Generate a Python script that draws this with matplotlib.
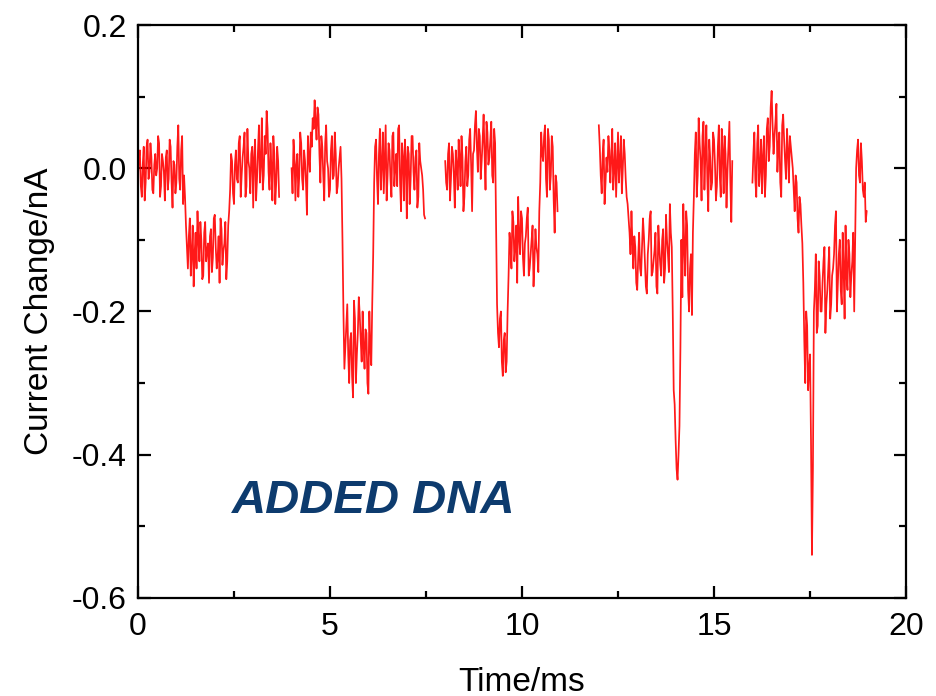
#!/usr/bin/env python3
from __future__ import annotations

import matplotlib

matplotlib.use("Agg")
import matplotlib.pyplot as plt
import numpy as np
from matplotlib.ticker import MultipleLocator

# the trace was read at 0.05 ms; *_MID values sit half a step later
STEP = 0.05

# each recorded segment: start time (ms) and current change in pA
SEG1_T0 = 0.0
SEG1_PA = [
    -10, 25, -40, 30, -20, 40, -5, 15, -35, 20, 0, 35, -25, 10, -45, 25, -15, 30, -55, 5,
    -20, 60, -30, 45, -10,
    -80, -140, -70, -120, -165, -90, -60, -130, -100, -150, -75, -115, -160, -85, -125,
    -65, -140, -95, -70, -135, -105, -155, -80,
    -30, 10, -50, 25, -20, 45, -10, 30, -40, 55, 0, 20, -55, 40, -15, 60, 5, -30, 45, 80,
    -5, 35, -45, 20, -20, 10,
]
SEG1_MID = [
    15, -25, 5, -45, 30, -15, 35, -30, 5, -10, 45, -40, 20, -5, 15, -30, 40, -20, 10, -35,
    30, -15, 25, -50, -40,
    -110, -95, -150, -80, -120, -140, -100, -75, -155, -90, -130, -105, -95, -145, -70,
    -110, -125, -160, -85, -115, -75, -130, -60,
    20, -35, 5, -15, 35, -40, 15, 50, -25, 10, -35, 30, 15, -45, 25, -20, 70, -10, 20, 55,
    -30, 0, 45, -50, 30, -40,
]
SEG2_T0 = 4.0
SEG2_PA = [
    0, 40, -45, 20, -10, 35, -30, 10, -65, 15, 50, 70, 95, 40, 75, -20, 30, -45, 60, 0,
    -30, 45, -10, 20, -25, 15, -15,
    -200, -250, -190, -300, -230, -320, -210, -260, -180, -240, -200, -280, -230, -315,
    -250, -190,
    -20, 40, -50, 55, 5, -35, 60, -10, 25, -40, 50, 0, -25, 60, -60, 15, 40, -70, 20, -15,
    45, -30, 25, -40, 10, -10, -65,
]
SEG2_MID = [
    -35, 15, 5, -40, 50, -15, 25, -20, 45, -5, 30, 55, 65, 85, 20, 45, -10, 35, 10, -40,
    25, -15, 50, -35, 0, 30, -100,
    -280, -220, -260, -240, -290, -185, -300, -230, -205, -270, -250, -225, -300, -200,
    -275, -120,
    30, -15, 20, -30, 50, 15, -45, 35, -15, 45, -25, 20, 55, -20, 35, -45, 10, 30, -50, 45,
    -5, 15, -55, 35, 0, -30, -70,
]
SEG3_T0 = 8.0
SEG3_PA = [
    10, -30, 35, -15, 20, -55, 5, 40, -25, 15, -40, 30, -10, 55, -60, 25, 80, -5, 45, 10,
    75, -30, 50, 15, 65, -20, 35,
    -190, -250, -200, -290, -230, -270,
    -150, -110, -60, -130, -80, -40, -120, -70, -150, -95, -55, -140, -100, -165, -85,
    -120, -60,
    50, 10, 60, -40, 40, -10, 30, -90, -20,
]
SEG3_MID = [
    -20, 20, -45, 30, -10, 25, -30, 15, 45, -60, 10, -25, 40, 5, 20, 60, 30, 55, -15, 40,
    20, 65, 5, 40, -10, 55, -80,
    -230, -210, -270, -240, -285, -200,
    -90, -140, -75, -110, -160, -95, -60, -125, -105, -70, -150, -120, -80, -130, -110,
    -145, -20,
    20, 45, -15, 55, -30, 45, -45, -10, -60,
]
SEG4_T0 = 12.0
SEG4_PA = [
    60, -10, 20, -50, 15, 45, -20, 55, 0, -40, 50, 10, -35, 40, -15, -50,
    -90, -60, -140, -110, -170, -90, -150, -70, -130, -175, -100, -60, -145, -115, -165,
    -80, -135, -100, -160, -65, -120, -50, -110,
    -310, -380, -435, -360,
    -100, -50, -150, -80, -200, -120, -90,
    20, -40, 70, 10, 45, -30, 60, -60, 15, -20, 40, -45, 30, -10, 55, -35, 20, -5, 65, -75,
]
SEG4_MID = [
    30, -35, 40, -20, -5, 25, 15, -30, 35, 5, -20, 45, 0, 20, -40, -70,
    -120, -105, -95, -160, -125, -140, -110, -95, -165, -120, -70, -150, -130, -90, -175,
    -110, -150, -85, -140, -100, -145, -90, -200,
    -330, -420, -400, -250,
    -180, -110, -60, -170, -140, -205, -40,
    50, -10, 35, -45, 65, 20, -15, 40, -30, 50, 5, -25, 60, -40, 25, 45, -55, 30, -20, 10,
]
SEG5_T0 = 16.0
SEG5_PA = [
    -20, 50, -40, 60, 0, -35, 45, -10, 70, 30, 108, 20, 65, -5, 50, -40, 75, 10, 55, -20,
    30,
    0, -60, -20, -90, -50, -105,
    -240, -200, -310, -260,
    -540,
    -200, -120, -220, -150, -200, -130, -230, -170, -110, -190, -140, -80, -200, -120,
    -170, -90, -210, -150, -100, -180, -130, -200,
    0, 40, -20, 10, -40, -75,
]
SEG5_MID = [
    20, -15, 35, -25, 40, 15, -40, 55, 10, 85, 60, 45, 90, 30, -20, 60, 40, -15, 25, 45,
    15,
    -30, -10, -70, -40, -80, -160,
    -300, -220, -280, -380,
    -420,
    -170, -230, -130, -200, -160, -110, -190, -140, -210, -150, -120, -60, -160, -100,
    -190, -140, -80, -170, -120, -150, -90, -100,
    25, -10, 35, -30, -20, -60,
]
SEGMENTS = [
    (SEG1_T0, SEG1_PA, SEG1_MID),
    (SEG2_T0, SEG2_PA, SEG2_MID),
    (SEG3_T0, SEG3_PA, SEG3_MID),
    (SEG4_T0, SEG4_PA, SEG4_MID),
    (SEG5_T0, SEG5_PA, SEG5_MID),
]

X_LABEL = "Time/ms"
Y_LABEL = "Current Change/nA"
Y_TICKS = [0.2, 0.0, -0.2, -0.4, -0.6]
NOTE = "ADDED DNA"
NOTE_POS = (2.45, -0.482)


def apply_style() -> None:
    plt.rc("font", family="Liberation Sans")
    plt.rcParams["xtick.direction"] = "in"
    plt.rcParams["ytick.direction"] = "in"
    plt.rcParams["xtick.top"] = True
    plt.rcParams["ytick.right"] = True
    plt.rcParams["axes.linewidth"] = 1.6


def main() -> None:
    apply_style()
    fig = plt.figure(figsize=(9.36, 6.96), dpi=100)
    ax = fig.add_axes([0.1474, 0.141, 0.8206, 0.823])

    for t0, vals, mids in SEGMENTS:
        v = np.column_stack((vals, mids)).ravel().astype(float) / 1000.0
        t = t0 + 0.5 * STEP * np.arange(len(v))
        ax.plot(t, v, color="#ff0000", linewidth=1.25, alpha=0.9)

    ax.set_xlim(0, 20)
    ax.set_ylim(-0.6, 0.2)
    ax.xaxis.set_major_locator(MultipleLocator(5))
    ax.xaxis.set_minor_locator(MultipleLocator(2.5))
    ax.yaxis.set_minor_locator(MultipleLocator(0.1))
    ax.set_yticks(Y_TICKS)
    ax.set_yticklabels([f"{y:.1f}" for y in Y_TICKS])
    ax.tick_params(which="major", length=9, width=1.6, labelsize=23, pad=8)
    ax.tick_params(which="minor", length=5, width=1.6)
    ax.tick_params(axis="x", pad=10)

    ax.set_xlabel(X_LABEL, fontsize=24, labelpad=18)
    ax.set_ylabel(Y_LABEL, fontsize=24, labelpad=12)

    ax.text(NOTE_POS[0], NOTE_POS[1], NOTE, fontsize=34, fontweight="bold",
            fontstyle="italic", color="#0d3b6e", ha="left", va="baseline")

    fig.savefig("out.png", dpi=100)
    plt.close(fig)


if __name__ == "__main__":
    main()
